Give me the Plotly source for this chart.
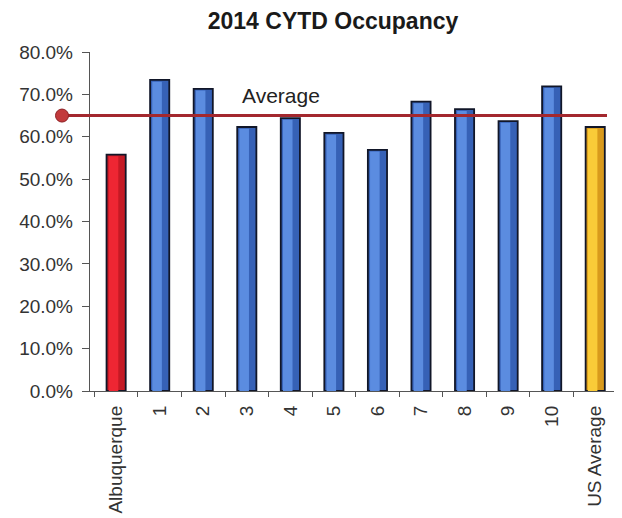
import plotly.graph_objects as go

# ---- data ----
categories = ["Albuquerque", "1", "2", "3", "4", "5", "6", "7", "8", "9", "10", "US Average"]
occupancy = [0.558, 0.734, 0.713, 0.623, 0.644, 0.609, 0.569, 0.683, 0.665, 0.637, 0.719, 0.623]
bar_colors = ["#C41A25"] + ["#3661B6"] * 10 + ["#D99A1C"]
highlight_colors = ["#EE2633"] + ["#5B8CE0"] * 10 + ["#FACB38"]
average_value = 0.650
average_label = "Average"
title_text = "2014 CYTD Occupancy"
y_ticks = [0.0, 0.1, 0.2, 0.3, 0.4, 0.5, 0.6, 0.7, 0.8]

# page body has an 8px margin, so the figure is laid out 8px up/left
W, H = 614, 510
FONT = "Arial, Liberation Sans, sans-serif"

fig = go.Figure()

fig.add_trace(go.Bar(
    x=categories, y=occupancy,
    marker=dict(color=bar_colors, line=dict(color="#111628", width=1.8)),
    width=0.44, offset=-0.22,
    showlegend=False, hoverinfo="x+y",
))
# lighter band to mimic the rounded shading of the bars
fig.add_trace(go.Bar(
    x=categories, y=[v - 0.004 for v in occupancy],
    marker=dict(color=highlight_colors, line=dict(width=0)),
    width=0.22, offset=-0.17,
    showlegend=False, hoverinfo="skip",
))

# average line (extends past the plot area, positioned on the y scale)
line_x0, line_x1 = 54 / W, 599 / W
fig.add_shape(type="line", xref="paper", yref="y",
              x0=line_x0, x1=line_x1, y0=average_value, y1=average_value,
              line=dict(color="#A3282E", width=3), layer="above")
fig.add_shape(type="circle", xref="paper", yref="y",
              xsizemode="pixel", ysizemode="pixel",
              xanchor=line_x0, yanchor=average_value,
              x0=-6.5, x1=6.5, y0=-6.5, y1=6.5,
              fillcolor="#C23A3C", line=dict(color="#8E2226", width=1), layer="above")

fig.add_annotation(
    x=3.79, y=0.697, xref="x", yref="y",
    text=average_label, showarrow=False,
    font=dict(family=FONT, size=21, color="#222222"),
    yanchor="middle", xanchor="center",
)

fig.update_layout(
    width=W, height=H,
    margin=dict(l=0, r=0, t=44, b=127),
    paper_bgcolor="white", plot_bgcolor="white",
    title=dict(text="<b>" + title_text + "</b>", x=325 / W, y=1 - 12.5 / H,
               xref="container", yref="container", xanchor="center", yanchor="middle",
               font=dict(family=FONT, size=23, color="#1a1a1a")),
    xaxis=dict(
        domain=[82 / W, 609 / W], range=[-0.6, 11.5],
        type="category", tickangle=-90, tickson="boundaries",
        ticks="outside", ticklen=5, tickcolor="#555", tickwidth=1.3,
        showline=True, linecolor="#555", linewidth=1.4,
        showgrid=False, zeroline=False, ticklabelstandoff=6,
        tickfont=dict(family=FONT, size=19, color="#333"),
    ),
    yaxis=dict(
        range=[0, 0.8], tickvals=y_ticks, tickformat=".1%",
        ticks="outside", ticklen=7, tickcolor="#555", tickwidth=1.3,
        showline=True, linecolor="#555", linewidth=1.4,
        showgrid=False, zeroline=False, ticklabelstandoff=5,
        tickfont=dict(family=FONT, size=19, color="#333"),
    ),
    barmode="overlay",
)

fig.write_html("out.html")
